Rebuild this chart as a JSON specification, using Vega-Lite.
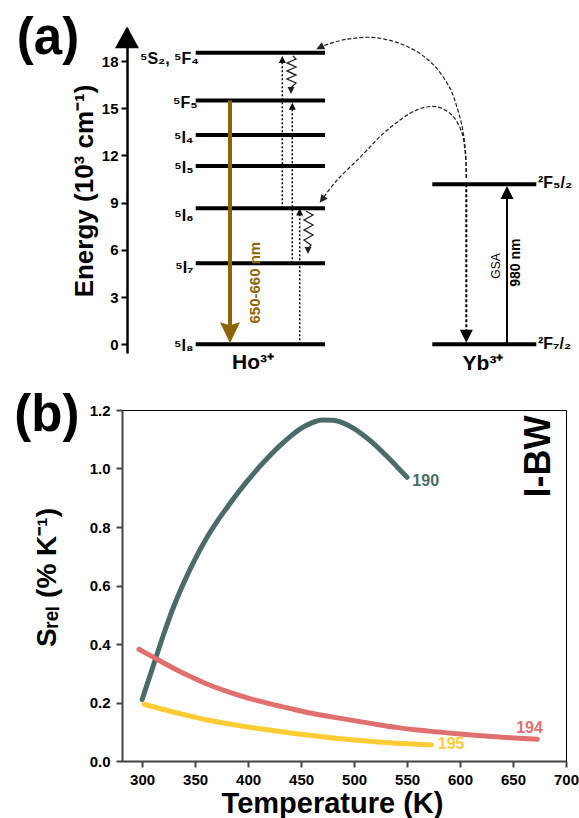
{
"$schema": "https://vega.github.io/schema/vega-lite/v6.json",
"padding": {"left": 13, "top": 13, "right": 0, "bottom": 0},
"background": "white",
"config": {"font": "Liberation Sans", "view": {"stroke": null}},
"spacing": 57,
"bounds": "flush",
"datasets": {
"levels": [{"x":73.7,"x2":203,"y":18.53},{"x":73.7,"x2":203,"y":15.5},{"x":73.7,"x2":203,"y":13.3},{"x":73.7,"x2":203,"y":11.33},{"x":73.7,"x2":203,"y":8.645},{"x":73.7,"x2":203,"y":5.15},{"x":73.7,"x2":203,"y":0},{"x":310.3,"x2":414.3,"y":10.17},{"x":310.3,"x2":414.3,"y":0}],
"holabels": [{"x":77,"y":18.13,"t":"⁵S₂, ⁵F₄"},{"x":75.5,"y":15.34,"t":"⁵F₅"},{"x":71.5,"y":13.11,"t":"⁵I₄"},{"x":71.5,"y":11.2,"t":"⁵I₅"},{"x":71.5,"y":8.16,"t":"⁵I₆"},{"x":71.5,"y":4.85,"t":"⁵I₇"},{"x":71.5,"y":-0.1,"t":"⁵I₈"}],
"yblabels": [{"x":416,"y":10.22,"t":"²F₅/₂"},{"x":416,"y":0.05,"t":"²F₇/₂"}],
"brown": [{"x":108,"y":15.5,"y2":1.2}],
"brownhead": [{"x":108,"y":0.77}],
"dotted": [{"x":177.7,"y":0,"y2":8.3},{"x":160.3,"y":8.645,"y2":18.0},{"x":170.3,"y":5.15,"y2":15.0}],
"upheads": [{"x":177.7,"y":8.41},{"x":160.3,"y":18.1},{"x":170.3,"y":15.13}],
"waves": [{"id":"W1","o":0,"x":171,"y":18.32},{"id":"W1","o":1,"x":174,"y":18.13},{"id":"W1","o":2,"x":165,"y":17.88},{"id":"W1","o":3,"x":174,"y":17.62},{"id":"W1","o":4,"x":165,"y":17.37},{"id":"W1","o":5,"x":174,"y":17.11},{"id":"W1","o":6,"x":165,"y":16.86},{"id":"W1","o":7,"x":174,"y":16.61},{"id":"W1","o":8,"x":169,"y":16.3},
{"id":"W2","o":0,"x":184,"y":8.47},{"id":"W2","o":1,"x":191,"y":8.22},{"id":"W2","o":2,"x":182,"y":7.9},{"id":"W2","o":3,"x":191,"y":7.58},{"id":"W2","o":4,"x":182,"y":7.27},{"id":"W2","o":5,"x":191,"y":6.95},{"id":"W2","o":6,"x":182,"y":6.63},{"id":"W2","o":7,"x":189,"y":6.31},{"id":"W2","o":8,"x":186,"y":6.1}],
"downheads": [{"x":169,"y":16.13},{"x":186,"y":5.96}],
"curves": [{"id":"C1","o":0,"x":344.3,"y":10.57},{"id":"C1","o":1,"x":343.5,"y":12.29},{"id":"C1","o":2,"x":340,"y":13.87},{"id":"C1","o":3,"x":334,"y":15.27},{"id":"C1","o":4,"x":327.7,"y":16.31},{"id":"C1","o":5,"x":311,"y":17.79},{"id":"C1","o":6,"x":287.7,"y":18.85},{"id":"C1","o":7,"x":254.3,"y":19.48},{"id":"C1","o":8,"x":224.3,"y":19.38},{"id":"C1","o":9,"x":201,"y":18.96},{"id":"C1","o":10,"x":197,"y":18.84},
{"id":"C2","o":0,"x":344.3,"y":10.57},{"id":"C2","o":1,"x":343.3,"y":12.1},{"id":"C2","o":2,"x":339.3,"y":13.56},{"id":"C2","o":3,"x":329,"y":14.62},{"id":"C2","o":4,"x":314.3,"y":15.1},{"id":"C2","o":5,"x":295,"y":14.9},{"id":"C2","o":6,"x":264.3,"y":13.56},{"id":"C2","o":7,"x":237.7,"y":11.86},{"id":"C2","o":8,"x":214.3,"y":10.38},{"id":"C2","o":9,"x":200.5,"y":9.25}],
"curveheads": [{"x":197.9,"y":18.86,"a":244},{"x":200.1,"y":9.2,"a":218}],
"ybdotted": [{"x":344.3,"y":10.17,"y2":0.7}],
"ybsolid": [{"x":385,"y":0,"y2":9.5}],
"ybdown": [{"x":344.3,"y":0.52}],
"ybup": [{"x":385,"y":9.65}],
"axishead": [{"x":5,"y":19.43}],
"rottext": [{"x":132.7,"y":3.92,"t":"650-660 nm"}],
"gsa": [{"x":373.7,"y":4.98,"t":"GSA"}],
"nm980": [{"x":394.3,"y":5.19,"t":"980 nm"}],
"ions": [{"x":131,"y":-1.2,"t":"Ho³⁺"},{"x":361,"y":-1.25,"t":"Yb³⁺"}],
"panela": [{"x":-74,"y":19.4,"t":"(a)"}],
"srel": [
{"s":"190","T":300,"S":0.21},{"s":"190","T":310,"S":0.32},{"s":"190","T":320,"S":0.43},{"s":"190","T":330,"S":0.53},{"s":"190","T":340,"S":0.615},{"s":"190","T":350,"S":0.69},{"s":"190","T":360,"S":0.757},{"s":"190","T":370,"S":0.815},{"s":"190","T":380,"S":0.866},{"s":"190","T":390,"S":0.915},{"s":"190","T":400,"S":0.96},{"s":"190","T":410,"S":1.003},{"s":"190","T":420,"S":1.042},{"s":"190","T":430,"S":1.078},{"s":"190","T":440,"S":1.11},{"s":"190","T":450,"S":1.137},{"s":"190","T":460,"S":1.156},{"s":"190","T":470,"S":1.166},{"s":"190","T":480,"S":1.165},{"s":"190","T":490,"S":1.155},{"s":"190","T":500,"S":1.136},{"s":"190","T":510,"S":1.11},{"s":"190","T":520,"S":1.08},{"s":"190","T":530,"S":1.045},{"s":"190","T":540,"S":1.008},{"s":"190","T":550,"S":0.97},
{"s":"194","T":297,"S":0.382},{"s":"194","T":310,"S":0.356},{"s":"194","T":320,"S":0.336},{"s":"194","T":340,"S":0.298},{"s":"194","T":360,"S":0.265},{"s":"194","T":380,"S":0.238},{"s":"194","T":400,"S":0.215},{"s":"194","T":420,"S":0.196},{"s":"194","T":440,"S":0.179},{"s":"194","T":460,"S":0.163},{"s":"194","T":480,"S":0.15},{"s":"194","T":500,"S":0.138},{"s":"194","T":520,"S":0.126},{"s":"194","T":540,"S":0.115},{"s":"194","T":560,"S":0.106},{"s":"194","T":580,"S":0.099},{"s":"194","T":600,"S":0.092},{"s":"194","T":620,"S":0.086},{"s":"194","T":640,"S":0.081},{"s":"194","T":660,"S":0.077},{"s":"194","T":673,"S":0.074},
{"s":"195","T":302,"S":0.194},{"s":"195","T":320,"S":0.176},{"s":"195","T":340,"S":0.158},{"s":"195","T":360,"S":0.141},{"s":"195","T":380,"S":0.128},{"s":"195","T":400,"S":0.116},{"s":"195","T":420,"S":0.106},{"s":"195","T":440,"S":0.096},{"s":"195","T":460,"S":0.087},{"s":"195","T":480,"S":0.079},{"s":"195","T":500,"S":0.072},{"s":"195","T":520,"S":0.066},{"s":"195","T":540,"S":0.061},{"s":"195","T":560,"S":0.057},{"s":"195","T":573,"S":0.055}],
"srellabels": [{"s":"190","T":555,"S":0.957,"t":"190"},{"s":"194","T":653,"S":0.114,"t":"194"},{"s":"195","T":579,"S":0.059,"t":"195"}],
"ibw": [{"T":674.7,"S":1.041,"t":"I-BW"}],
"panelb": [{"T":210.1,"S":1.178,"t":"(b)"}]
},
"vconcat": [
{
"width": 444, "height": 325,
"view": {"stroke": null},
"encoding": {
"x": {"field":"x","type":"quantitative","scale":{"domain":[0,444],"nice":false,"zero":false},"axis":null},
"y": {"field":"y","type":"quantitative","scale":{"domain":[-0.55,20.1],"nice":false,"zero":false},
 "axis":{"values":[0,3,6,9,12,15,18],"offset":-5,"domainColor":"black","domainWidth":2.5,"tickColor":"black","tickWidth":2,"tickSize":6,"labelFontSize":15,"labelFontWeight":"bold","labelColor":"black","labelPadding":3,"title":"Energy (10³ cm⁻¹)","titleFontSize":26,"titleFontWeight":"bold","titleColor":"black","titlePadding":4,"grid":false}}
},
"layer": [
{"data":{"name":"levels"},"mark":{"type":"rule","strokeWidth":4,"color":"black"},"encoding":{"x2":{"field":"x2"}}},
{"data":{"name":"holabels"},"mark":{"type":"text","align":"right","baseline":"middle","fontSize":16,"fontWeight":"bold","color":"black"},"encoding":{"text":{"field":"t"}}},
{"data":{"name":"yblabels"},"mark":{"type":"text","align":"left","baseline":"middle","fontSize":16,"fontWeight":"bold","color":"black"},"encoding":{"text":{"field":"t"}}},
{"data":{"name":"brown"},"mark":{"type":"rule","strokeWidth":4,"color":"#8B6508"},"encoding":{"y2":{"field":"y2"}}},
{"data":{"name":"brownhead"},"mark":{"type":"point","shape":"M0,1.1L1,-1L0,-0.7L-1,-1Z","size":400,"filled":true,"opacity":1,"color":"#8B6508"},"encoding":{}},
{"data":{"name":"dotted"},"mark":{"type":"rule","strokeWidth":1.5,"strokeDash":[2,2],"color":"black"},"encoding":{"y2":{"field":"y2"}}},
{"data":{"name":"upheads"},"mark":{"type":"point","shape":"M0,-1L1,1L-1,1Z","size":49,"filled":true,"opacity":1,"color":"black"},"encoding":{}},
{"data":{"name":"waves"},"mark":{"type":"line","strokeWidth":1.3,"color":"#222"},"encoding":{"detail":{"field":"id"},"order":{"field":"o"}}},
{"data":{"name":"downheads"},"mark":{"type":"point","shape":"M0,1L1,-1L-1,-1Z","size":49,"filled":true,"opacity":1,"color":"#222"},"encoding":{}},
{"data":{"name":"curves"},"mark":{"type":"line","strokeWidth":1.2,"strokeDash":[4,2],"color":"#222","interpolate":"catmull-rom"},"encoding":{"detail":{"field":"id"},"order":{"field":"o"}}},
{"data":{"name":"curveheads"},"mark":{"type":"point","shape":"M0,-1L1,1L-1,1Z","size":64,"filled":true,"opacity":1,"color":"#222"},"encoding":{"angle":{"field":"a","type":"quantitative","scale":null}}},
{"data":{"name":"ybdotted"},"mark":{"type":"rule","strokeWidth":2,"strokeDash":[3,2],"color":"black"},"encoding":{"y2":{"field":"y2"}}},
{"data":{"name":"ybsolid"},"mark":{"type":"rule","strokeWidth":2,"color":"black"},"encoding":{"y2":{"field":"y2"}}},
{"data":{"name":"ybdown"},"mark":{"type":"point","shape":"M0,1L1,-1L-1,-1Z","size":169,"filled":true,"opacity":1,"color":"black"},"encoding":{}},
{"data":{"name":"ybup"},"mark":{"type":"point","shape":"M0,-1L1,1L-1,1Z","size":169,"filled":true,"opacity":1,"color":"black"},"encoding":{}},
{"data":{"name":"axishead"},"mark":{"type":"point","shape":"M0,-1L1,0.8L-1,0.8Z","size":576,"filled":true,"opacity":1,"color":"black"},"encoding":{}},
{"data":{"name":"rottext"},"mark":{"type":"text","angle":270,"align":"center","baseline":"middle","fontSize":15,"fontWeight":"bold","color":"#8B6508"},"encoding":{"text":{"field":"t"}}},
{"data":{"name":"gsa"},"mark":{"type":"text","angle":270,"align":"center","baseline":"middle","fontSize":12,"color":"black"},"encoding":{"text":{"field":"t"}}},
{"data":{"name":"nm980"},"mark":{"type":"text","angle":270,"align":"center","baseline":"middle","fontSize":14,"fontWeight":"bold","color":"black"},"encoding":{"text":{"field":"t"}}},
{"data":{"name":"ions"},"mark":{"type":"text","align":"center","baseline":"middle","fontSize":21,"fontWeight":"bold","color":"black"},"encoding":{"text":{"field":"t"}}},
{"data":{"name":"panela"},"mark":{"type":"text","align":"center","baseline":"middle","fontSize":51,"fontWeight":"bold","color":"black"},"encoding":{"text":{"field":"t"}}}
]
},
{
"width": 444, "height": 351,
"view": {"stroke": "black", "strokeWidth": 1},
"encoding": {
"x": {"field":"T","type":"quantitative","scale":{"domain":[281,700],"nice":false,"zero":false},
 "axis":{"values":[300,350,400,450,500,550,600,650,700],"domainColor":"#444","domainWidth":2,"tickColor":"#444","tickWidth":2,"tickSize":6,"labelFontSize":15,"labelFontWeight":"bold","labelColor":"black","labelPadding":5,"labelFlush":false,"title":"Temperature (K)","titleFontSize":29,"titleFontWeight":"bold","titleColor":"black","titlePadding":2,"titleX":210,"grid":false}},
"y": {"field":"S","type":"quantitative","scale":{"domain":[0,1.2],"nice":false,"zero":false},
 "axis":{"values":[0,0.2,0.4,0.6,0.8,1.0,1.2],"format":".1f","domainColor":"#444","domainWidth":2,"tickColor":"#444","tickWidth":2,"tickSize":6,"labelFontSize":15,"labelFontWeight":"bold","labelColor":"black","labelPadding":6,"labelFlush":false,"title":"Sᵣₑₗ (% K⁻¹)","titleFontSize":28,"titleFontWeight":"bold","titleColor":"black","titlePadding":28,"titleY":167,"grid":false}}
},
"layer": [
{"data":{"name":"srel"},"mark":{"type":"line","strokeWidth":5,"strokeCap":"round","interpolate":"monotone"},"encoding":{"color":{"field":"s","type":"nominal","scale":{"domain":["190","194","195"],"range":["#4A6B69","#E07070","#FFCC33"]},"legend":null}}},
{"data":{"name":"srellabels"},"mark":{"type":"text","align":"left","baseline":"middle","fontSize":16,"fontWeight":"bold"},"encoding":{"text":{"field":"t"},"color":{"field":"s","type":"nominal","legend":null}}},
{"data":{"name":"ibw"},"mark":{"type":"text","angle":270,"align":"center","baseline":"middle","fontSize":36,"fontWeight":"bold","color":"black"},"encoding":{"text":{"field":"t"}}},
{"data":{"name":"panelb"},"mark":{"type":"text","align":"center","baseline":"middle","fontSize":51,"fontWeight":"bold","color":"black"},"encoding":{"text":{"field":"t"}}}
]
}
]
}
